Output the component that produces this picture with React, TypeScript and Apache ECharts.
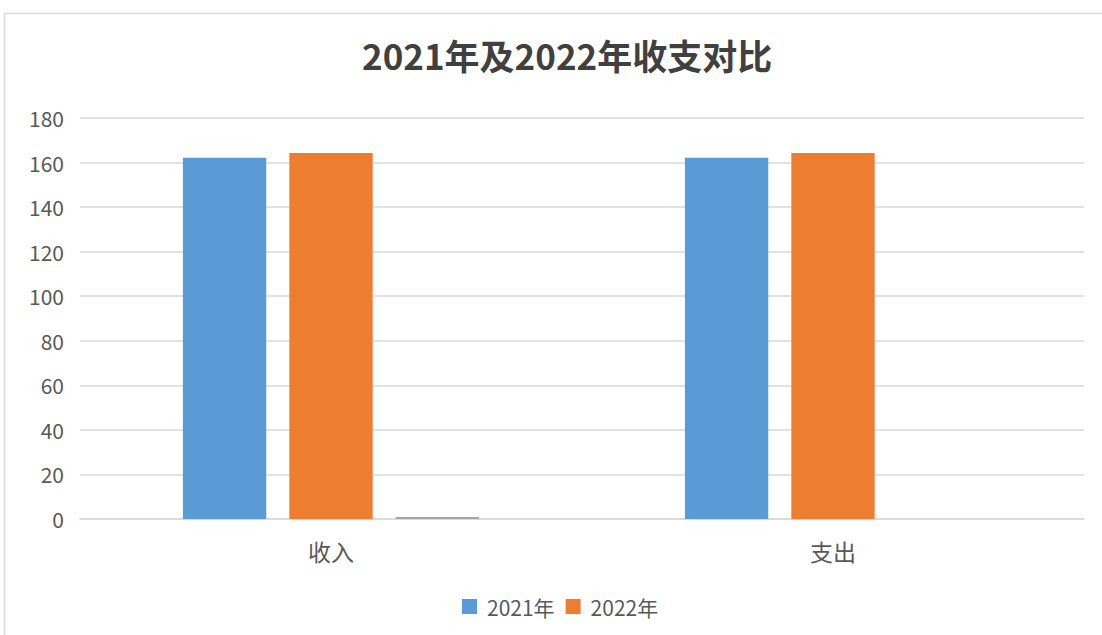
import React, { useEffect, useRef } from "react";
import * as echarts from "echarts";

const categories = ["收入", "支出"];
const series2021 = [162.2, 162.2];
const series2022 = [164.3, 164.3];
const series3 = [0.9, 0];
const seriesNames = ["2021年", "2022年"];
const yTicks = { min: 0, max: 180, interval: 20 };

export default function App() {
  const ref = useRef<HTMLDivElement>(null);
  useEffect(() => {
    const chart = echarts.init(ref.current!, null, { renderer: "svg" });
    const font = "'Noto Sans CJK SC', 'Noto Sans', sans-serif";
    chart.setOption({
      animation: false,
      backgroundColor: "#ffffff",
      textStyle: { fontFamily: font },
      title: {
        text: "2021年及2022年收支对比",
        left: 357,
        top: 32,
        textStyle: { fontSize: 35, fontWeight: "bold", color: "#404040", fontFamily: font },
      },
      graphic: [
        {
          type: "rect",
          shape: { x: 4.5, y: 13.5, width: 1300, height: 800 },
          style: { fill: "none", stroke: "#d9d9d9", lineWidth: 1.5 },
          silent: true,
        },
      ],
      legend: {
        data: seriesNames,
        top: 591,
        left: 457,
        itemWidth: 15,
        itemHeight: 15,
        itemGap: 11,
        icon: "rect",
        textStyle: { fontSize: 21, color: "#595959", fontFamily: font, padding: [0, 0, 0, 5] },
      },
      grid: { left: 80, right: 18, top: 118, bottom: 116 },
      xAxis: {
        type: "category",
        data: categories,
        axisTick: { show: false },
        axisLine: { lineStyle: { color: "#d9d9d9", width: 1.5 } },
        axisLabel: { fontSize: 23, color: "#595959", margin: 20, fontFamily: font },
      },
      yAxis: {
        type: "value",
        min: yTicks.min,
        max: yTicks.max,
        interval: yTicks.interval,
        axisLine: { show: false },
        axisTick: { show: false },
        splitLine: { lineStyle: { color: "#d9d9d9", width: 1.5 } },
        axisLabel: { fontSize: 21, color: "#595959", margin: 16, fontFamily: font },
      },
      series: [
        {
          name: seriesNames[0],
          type: "bar",
          data: series2021,
          itemStyle: { color: "#5B9BD5" },
          barGap: "27.7%",
          barCategoryGap: "41%",
        },
        {
          name: seriesNames[1],
          type: "bar",
          data: series2022,
          itemStyle: { color: "#ED7D31" },
        },
        {
          name: "系列3",
          type: "bar",
          data: series3,
          itemStyle: { color: "#A5A5A5" },
        },
      ],
    });
    return () => chart.dispose();
  }, []);
  return (
    <div
      ref={ref}
      style={{ position: "fixed", left: 0, top: 0, width: 1102, height: 635 }}
    />
  );
}
